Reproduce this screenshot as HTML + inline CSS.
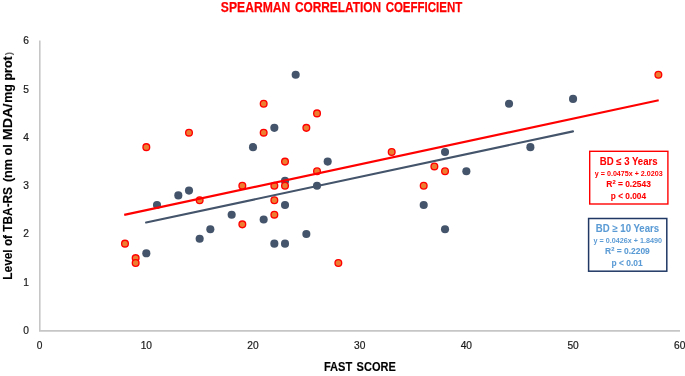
<!DOCTYPE html><html><head><meta charset="utf-8"><style>html,body{margin:0;padding:0;background:#fff;width:685px;height:376px;overflow:hidden}svg{display:block;will-change:transform}text{font-family:"Liberation Sans",sans-serif}</style></head><body>
<svg width="685" height="376" viewBox="0 0 685 376">
<g id="axes"><line x1="39.8" y1="40.6" x2="39.8" y2="331" stroke="#c6c6c6" stroke-width="1.6"/>
<line x1="39" y1="330.85" x2="680" y2="330.85" stroke="#c6c6c6" stroke-width="1.6"/></g>
<g id="ticks">
<text x="29" y="333.90" font-size="10.2" text-anchor="end" fill="#1a1a1a" stroke="#1a1a1a" stroke-width="0.2">0</text>
<text x="29" y="285.65" font-size="10.2" text-anchor="end" fill="#1a1a1a" stroke="#1a1a1a" stroke-width="0.2">1</text>
<text x="29" y="237.40" font-size="10.2" text-anchor="end" fill="#1a1a1a" stroke="#1a1a1a" stroke-width="0.2">2</text>
<text x="29" y="189.15" font-size="10.2" text-anchor="end" fill="#1a1a1a" stroke="#1a1a1a" stroke-width="0.2">3</text>
<text x="29" y="140.90" font-size="10.2" text-anchor="end" fill="#1a1a1a" stroke="#1a1a1a" stroke-width="0.2">4</text>
<text x="29" y="92.65" font-size="10.2" text-anchor="end" fill="#1a1a1a" stroke="#1a1a1a" stroke-width="0.2">5</text>
<text x="29" y="44.40" font-size="10.2" text-anchor="end" fill="#1a1a1a" stroke="#1a1a1a" stroke-width="0.2">6</text>
<text x="39.65" y="348.90" font-size="10.2" text-anchor="middle" fill="#1a1a1a" stroke="#1a1a1a" stroke-width="0.2">0</text>
<text x="146.33" y="348.90" font-size="10.2" text-anchor="middle" fill="#1a1a1a" stroke="#1a1a1a" stroke-width="0.2">10</text>
<text x="253.01" y="348.90" font-size="10.2" text-anchor="middle" fill="#1a1a1a" stroke="#1a1a1a" stroke-width="0.2">20</text>
<text x="359.69" y="348.90" font-size="10.2" text-anchor="middle" fill="#1a1a1a" stroke="#1a1a1a" stroke-width="0.2">30</text>
<text x="466.37" y="348.90" font-size="10.2" text-anchor="middle" fill="#1a1a1a" stroke="#1a1a1a" stroke-width="0.2">40</text>
<text x="573.05" y="348.90" font-size="10.2" text-anchor="middle" fill="#1a1a1a" stroke="#1a1a1a" stroke-width="0.2">50</text>
<text x="679.73" y="348.90" font-size="10.2" text-anchor="middle" fill="#1a1a1a" stroke="#1a1a1a" stroke-width="0.2">60</text>
</g><g id="dots">
<circle cx="146.33" cy="253.30" r="4.05" fill="#44546A"/>
<circle cx="157.00" cy="205.05" r="4.05" fill="#44546A"/>
<circle cx="178.33" cy="195.40" r="4.05" fill="#44546A"/>
<circle cx="189.00" cy="190.58" r="4.05" fill="#44546A"/>
<circle cx="199.67" cy="238.82" r="4.05" fill="#44546A"/>
<circle cx="210.34" cy="229.18" r="4.05" fill="#44546A"/>
<circle cx="231.67" cy="214.70" r="4.05" fill="#44546A"/>
<circle cx="253.01" cy="147.15" r="4.05" fill="#44546A"/>
<circle cx="263.68" cy="219.53" r="4.05" fill="#44546A"/>
<circle cx="274.35" cy="127.85" r="4.05" fill="#44546A"/>
<circle cx="274.35" cy="243.65" r="4.05" fill="#44546A"/>
<circle cx="285.01" cy="180.92" r="4.05" fill="#44546A"/>
<circle cx="285.01" cy="205.05" r="4.05" fill="#44546A"/>
<circle cx="285.01" cy="243.65" r="4.05" fill="#44546A"/>
<circle cx="295.68" cy="74.78" r="4.05" fill="#44546A"/>
<circle cx="306.35" cy="234.00" r="4.05" fill="#44546A"/>
<circle cx="317.02" cy="185.75" r="4.05" fill="#44546A"/>
<circle cx="327.69" cy="161.62" r="4.05" fill="#44546A"/>
<circle cx="423.70" cy="205.05" r="4.05" fill="#44546A"/>
<circle cx="445.03" cy="151.97" r="4.05" fill="#44546A"/>
<circle cx="445.03" cy="229.18" r="4.05" fill="#44546A"/>
<circle cx="466.37" cy="171.28" r="4.05" fill="#44546A"/>
<circle cx="509.04" cy="103.72" r="4.05" fill="#44546A"/>
<circle cx="530.38" cy="147.15" r="4.05" fill="#44546A"/>
<circle cx="573.05" cy="98.90" r="4.05" fill="#44546A"/>
<circle cx="124.99" cy="243.65" r="3.35" fill="#ED7D31" stroke="#FF0000" stroke-width="1.35"/>
<circle cx="135.66" cy="258.12" r="3.35" fill="#ED7D31" stroke="#FF0000" stroke-width="1.35"/>
<circle cx="135.66" cy="262.95" r="3.35" fill="#ED7D31" stroke="#FF0000" stroke-width="1.35"/>
<circle cx="146.33" cy="147.15" r="3.35" fill="#ED7D31" stroke="#FF0000" stroke-width="1.35"/>
<circle cx="189.00" cy="132.68" r="3.35" fill="#ED7D31" stroke="#FF0000" stroke-width="1.35"/>
<circle cx="199.67" cy="200.22" r="3.35" fill="#ED7D31" stroke="#FF0000" stroke-width="1.35"/>
<circle cx="242.34" cy="185.75" r="3.35" fill="#ED7D31" stroke="#FF0000" stroke-width="1.35"/>
<circle cx="242.34" cy="224.35" r="3.35" fill="#ED7D31" stroke="#FF0000" stroke-width="1.35"/>
<circle cx="263.68" cy="103.72" r="3.35" fill="#ED7D31" stroke="#FF0000" stroke-width="1.35"/>
<circle cx="263.68" cy="132.68" r="3.35" fill="#ED7D31" stroke="#FF0000" stroke-width="1.35"/>
<circle cx="274.35" cy="185.75" r="3.35" fill="#ED7D31" stroke="#FF0000" stroke-width="1.35"/>
<circle cx="274.35" cy="200.22" r="3.35" fill="#ED7D31" stroke="#FF0000" stroke-width="1.35"/>
<circle cx="274.35" cy="214.70" r="3.35" fill="#ED7D31" stroke="#FF0000" stroke-width="1.35"/>
<circle cx="285.01" cy="161.62" r="3.35" fill="#ED7D31" stroke="#FF0000" stroke-width="1.35"/>
<circle cx="285.01" cy="185.75" r="3.35" fill="#ED7D31" stroke="#FF0000" stroke-width="1.35"/>
<circle cx="306.35" cy="127.85" r="3.35" fill="#ED7D31" stroke="#FF0000" stroke-width="1.35"/>
<circle cx="317.02" cy="113.38" r="3.35" fill="#ED7D31" stroke="#FF0000" stroke-width="1.35"/>
<circle cx="317.02" cy="171.28" r="3.35" fill="#ED7D31" stroke="#FF0000" stroke-width="1.35"/>
<circle cx="338.35" cy="262.95" r="3.35" fill="#ED7D31" stroke="#FF0000" stroke-width="1.35"/>
<circle cx="391.69" cy="151.97" r="3.35" fill="#ED7D31" stroke="#FF0000" stroke-width="1.35"/>
<circle cx="423.70" cy="185.75" r="3.35" fill="#ED7D31" stroke="#FF0000" stroke-width="1.35"/>
<circle cx="434.37" cy="166.45" r="3.35" fill="#ED7D31" stroke="#FF0000" stroke-width="1.35"/>
<circle cx="445.03" cy="171.28" r="3.35" fill="#ED7D31" stroke="#FF0000" stroke-width="1.35"/>
<circle cx="658.39" cy="74.78" r="3.35" fill="#ED7D31" stroke="#FF0000" stroke-width="1.35"/>
<line x1="124.2" y1="214.95" x2="658.7" y2="100.25" stroke="#FF0000" stroke-width="2.2" stroke-linecap="butt"/>
<line x1="146.1" y1="222.55" x2="573" y2="131.35" stroke="#44546A" stroke-width="2.1" stroke-linecap="round"/>
</g><g id="boxes">
<rect x="589.7" y="151.3" width="78.2" height="52.7" fill="#fff" stroke="#FF0000" stroke-width="1.4"/>
<rect x="588.6" y="218.5" width="78.2" height="52.7" fill="#fff" stroke="#203864" stroke-width="1.5"/>
</g>
<text id="t_sp" class="t" x="220.86" y="11.60" font-size="14.3" font-weight="bold" fill="#FF0000" stroke="#FF0000" stroke-width="0.25" textLength="69.52" lengthAdjust="spacingAndGlyphs">SPEARMAN</text>
<text id="t_co" class="t" x="294.88" y="11.60" font-size="14.3" font-weight="bold" fill="#FF0000" stroke="#FF0000" stroke-width="0.25" textLength="86.24" lengthAdjust="spacingAndGlyphs">CORRELATION</text>
<text id="t_ce" class="t" x="385.65" y="11.60" font-size="14.3" font-weight="bold" fill="#FF0000" stroke="#FF0000" stroke-width="0.25" textLength="76.58" lengthAdjust="spacingAndGlyphs">COEFFICIENT</text>
<text id="xt1" class="t" x="323.89" y="370.60" font-size="12.3" font-weight="bold" fill="#000" stroke="#000" stroke-width="0.15" textLength="28.36" lengthAdjust="spacingAndGlyphs">FAST</text>
<text id="xt2" class="t" x="356.62" y="370.60" font-size="12.3" font-weight="bold" fill="#000" stroke="#000" stroke-width="0.15" textLength="39.16" lengthAdjust="spacingAndGlyphs">SCORE</text>
<text id="yt1" class="t" x="0" y="0" transform="translate(12.20,279.66) rotate(-90)" font-size="12.3" font-weight="bold" fill="#000" stroke="#000" stroke-width="0.15" textLength="92.68" lengthAdjust="spacingAndGlyphs">Level of TBA-RS</text>
<text id="yt2" class="t" x="0" y="0" transform="translate(12.20,182.12) rotate(-90)" font-size="12.3" font-weight="bold" fill="#000" stroke="#000" stroke-width="0.15" textLength="37.99" lengthAdjust="spacingAndGlyphs">(nm ol</text>
<text id="yt3" class="t" x="0" y="0" transform="translate(12.20,140.22) rotate(-90)" font-size="12.3" font-weight="bold" fill="#000" stroke="#000" stroke-width="0.15" textLength="36.72" lengthAdjust="spacingAndGlyphs">MDA/</text>
<text id="yt4" class="t" x="0" y="0" transform="translate(12.20,102.77) rotate(-90)" font-size="12.3" font-weight="bold" fill="#000" stroke="#000" stroke-width="0.15" textLength="46.49" lengthAdjust="spacingAndGlyphs">mg prot</text>
<text id="yp" class="t" x="0" y="0" transform="translate(11.60,55.30) rotate(-90)" font-size="9.5" font-weight="bold" fill="#666" textLength="3.20" lengthAdjust="spacingAndGlyphs">)</text>
<text id="r1" class="t" x="599.74" y="165.30" font-size="10.2" font-weight="bold" fill="#FF0000" stroke="#FF0000" stroke-width="0.08" textLength="57.78" lengthAdjust="spacingAndGlyphs">BD ≤ 3 Years</text>
<text id="r2" class="t" x="594.87" y="176.00" font-size="7.9" font-weight="bold" fill="#FF0000" textLength="67.76" lengthAdjust="spacingAndGlyphs">y = 0.0475x + 2.0203</text>
<text id="r3" class="t" x="606.33" y="186.90" font-size="9" font-weight="bold" fill="#FF0000" stroke="#FF0000" stroke-width="0.08" textLength="44.59" lengthAdjust="spacingAndGlyphs">R<tspan font-size="6.2" dy="-3.1" stroke-width="0.05">2</tspan><tspan dy="3.1"> = 0.2543</tspan></text>
<text id="r4" class="t" x="610.84" y="199.00" font-size="9" font-weight="bold" fill="#FF0000" stroke="#FF0000" stroke-width="0.08" textLength="35.21" lengthAdjust="spacingAndGlyphs">p &lt; 0.004</text>
<text id="b1" class="t" x="595.87" y="231.60" font-size="10.4" font-weight="bold" fill="#5B9BD5" stroke="#5B9BD5" stroke-width="0.08" textLength="63.24" lengthAdjust="spacingAndGlyphs">BD ≥ 10 Years</text>
<text id="b2" class="t" x="593.47" y="242.80" font-size="7.7" font-weight="bold" fill="#5B9BD5" textLength="68.46" lengthAdjust="spacingAndGlyphs">y = 0.0426x + 1.8490</text>
<text id="b3" class="t" x="605.07" y="253.80" font-size="9" font-weight="bold" fill="#5B9BD5" stroke="#5B9BD5" stroke-width="0.08" textLength="44.75" lengthAdjust="spacingAndGlyphs">R<tspan font-size="6.2" dy="-3.1" stroke-width="0.05">2</tspan><tspan dy="3.1"> = 0.2209</tspan></text>
<text id="b4" class="t" x="611.60" y="266.00" font-size="9" font-weight="bold" fill="#5B9BD5" stroke="#5B9BD5" stroke-width="0.08" textLength="31.06" lengthAdjust="spacingAndGlyphs">p &lt; 0.01</text>
</svg></body></html>
